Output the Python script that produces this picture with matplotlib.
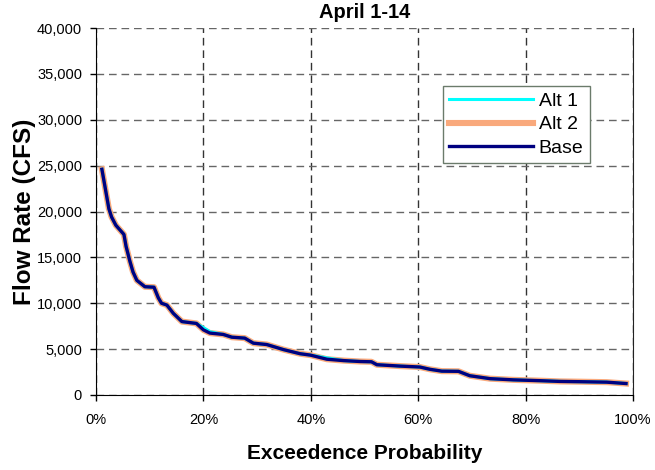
import matplotlib
matplotlib.use("Agg")
import matplotlib.pyplot as plt

plt.rcParams['font.family'] = ['Liberation Sans', 'DejaVu Sans']

# exceedence probability (%) and flow rate (CFS)
prob = [1.1, 2.4, 2.9, 3.7, 5.2, 5.6, 6.3, 6.9, 7.6, 9.1, 10.8, 11.6, 12.2, 13.2,
        14.4, 16.0, 18.7, 20.0, 21.2, 23.7, 25.3, 27.7, 29.3, 31.8, 34.9, 38.0,
        39.9, 43.0, 46.1, 49.2, 51.3, 52.3, 56.6, 60.3, 62.2, 64.4, 67.5, 69.6,
        73.4, 77.7, 82.7, 86.4, 90.1, 95.1, 98.7]
base = [24600, 20300, 19400, 18500, 17500, 16200, 14600, 13400, 12500, 11800,
        11750, 10600, 10000, 9800, 8900, 8000, 7800, 7100, 6750, 6600, 6300,
        6200, 5650, 5500, 4950, 4500, 4350, 3900, 3750, 3650, 3620, 3300, 3150,
        3050, 2800, 2600, 2580, 2100, 1780, 1650, 1560, 1480, 1450, 1400, 1250]
alt1 = [24600, 20300, 19400, 18500, 17500, 16200, 14600, 13400, 12500, 11800,
        11750, 10600, 10000, 9800, 8900, 8000, 7800, 7350, 6900, 6600, 6300,
        6200, 5650, 5500, 4950, 4500, 4350, 4050, 3750, 3650, 3620, 3300, 3150,
        3050, 2800, 2600, 2580, 2100, 1780, 1650, 1560, 1480, 1450, 1400, 1250]
alt2 = [24600, 20300, 19400, 18500, 17500, 16200, 14600, 13400, 12500, 11800,
        11750, 10600, 10000, 9800, 8900, 8000, 7800, 7100, 6750, 6600, 6300,
        6200, 5650, 5500, 4950, 4500, 4350, 3900, 3750, 3650, 3620, 3300, 3150,
        3050, 2800, 2600, 2580, 2100, 1780, 1650, 1560, 1480, 1450, 1400, 1250]

x_ticks = [0, 20, 40, 60, 80, 100]
x_labels = ['0%', '20%', '40%', '60%', '80%', '100%']
y_ticks = [0, 5000, 10000, 15000, 20000, 25000, 30000, 35000, 40000]
y_labels = ['0', '5,000', '10,000', '15,000', '20,000', '25,000', '30,000', '35,000', '40,000']

fig = plt.figure(figsize=(6.55, 4.70), dpi=100)
ax = fig.add_axes([96 / 655, 75 / 470, 537 / 655, 367 / 470])

l2, = ax.plot(prob, alt2, color='#F9A97C', lw=4.4, label='Alt 2')
l1, = ax.plot(prob, alt1, color='#00FFFF', lw=2.2, label='Alt 1')
lb, = ax.plot(prob, base, color='#000080', lw=2.4, label='Base')

ax.set_xlim(0, 100)
ax.set_ylim(0, 40000)
ax.set_xticks(x_ticks)
ax.set_xticklabels(x_labels)
ax.set_yticks(y_ticks)
ax.set_yticklabels(y_labels)
ax.tick_params(axis='x', direction='out', length=4, width=1, pad=9, labelsize=10.5)
ax.tick_params(axis='y', direction='out', length=4, width=1, pad=6, labelsize=10.5)

ax.yaxis.grid(True, color='#666666', lw=1.0, linestyle=(0, (5.5, 3.5)))
ax.xaxis.grid(True, color='#333333', lw=1.0, linestyle=(0, (5.5, 3.5)))
ax.set_axisbelow(True)

ax.spines['top'].set_visible(False)
ax.spines['right'].set_color('#222222')

ax.set_title('April 1-14', fontsize=14.5, fontweight='bold', pad=7)
ax.set_xlabel('Exceedence Probability', fontsize=15, fontweight='bold', labelpad=12)
ax.set_ylabel('Flow Rate (CFS)', fontsize=17.5, fontweight='bold', labelpad=1)

leg = ax.legend(handles=[l1, l2, lb], loc='upper left', bbox_to_anchor=(0.646, 0.842),
                fontsize=14, handlelength=4.3, handletextpad=0.3, labelspacing=0.3,
                borderpad=0.33, borderaxespad=0, fancybox=False, framealpha=1)
leg.get_frame().set_edgecolor('#6B7B6B')
leg.get_frame().set_linewidth(1.0)

fig.savefig('out.png', dpi=100)
